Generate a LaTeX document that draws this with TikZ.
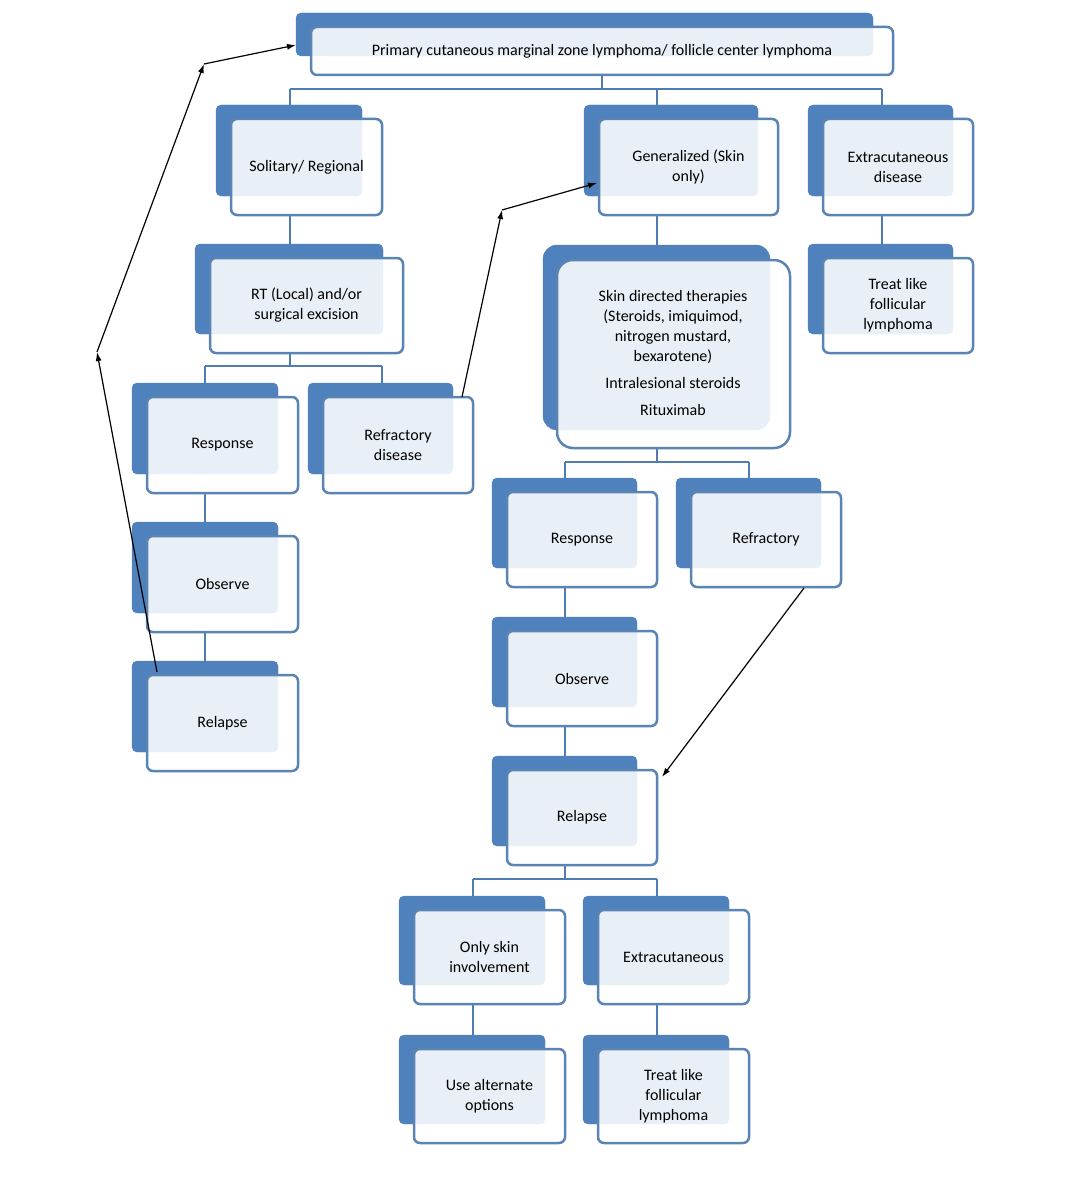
\documentclass[tikz,border=0pt]{standalone}
\usepackage{fontspec}
\setmainfont{Carlito}
\usetikzlibrary{arrows.meta}
\definecolor{dblue}{HTML}{4F81BD}
\definecolor{bord}{HTML}{5A84B4}
\definecolor{cline}{HTML}{4F7DB2}
\tikzset{
 back/.style={fill=dblue,draw=dblue,rounded corners=5pt},
 front/.style={fill=white,fill opacity=0.88,draw=bord,line width=2.5pt,rounded corners=6pt},
 lbl/.style={font=\fontsize{16}{20}\selectfont,align=center,text=black},
 conn/.style={draw=cline,line width=2.8pt},
 arr/.style={draw=black,line width=1.2pt,-{Latex[length=9pt,width=6pt]}}
}
% #1 name, front x1 y1 x2 y2, text
\newcommand{\mybox}[6]{%
 \fill[back] (#2-15,#3-14) rectangle (#4-20,#5-19);
 \draw[front] (#2,#3) rectangle (#4,#5);
 \node[lbl] (#1) at ({(#2+#4)/2},{(#3+#5)/2}) {#6};
}
\begin{document}
\begin{tikzpicture}[x=1pt,y=-1pt]
\useasboundingbox (0,0) rectangle (1080,1180);
% connectors
\draw[conn] (602,75)--(602,89) (290,89)--(882,89) (290,89)--(290,105) (657,89)--(657,105) (882,89)--(882,105);
\draw[conn] (290,215)--(290,245);
\draw[conn] (290,353)--(290,366) (205,366)--(382,366) (205,366)--(205,383) (382,366)--(382,383);
\draw[conn] (205,493)--(205,522) (205,632)--(205,661);
\draw[conn] (657,215)--(657,245) (882,215)--(882,245);
\draw[conn] (657,448)--(657,462) (565,462)--(749,462) (565,462)--(565,478) (749,462)--(749,478);
\draw[conn] (565,587)--(565,617) (565,726)--(565,756);
\draw[conn] (565,865)--(565,879) (473,879)--(657,879) (473,879)--(473,896) (657,879)--(657,896);
\draw[conn] (473,1004)--(473,1035) (657,1004)--(657,1035);
% boxes
\mybox{top}{311}{27}{893}{75}{Primary cutaneous marginal zone lymphoma/ follicle center lymphoma}
\mybox{sol}{231}{119}{382}{215}{Solitary/ Regional}
\mybox{gen}{599}{119}{778}{215}{Generalized (Skin\\only)}
\mybox{ext}{823}{119}{973}{215}{Extracutaneous\\disease}
\mybox{rt}{210}{258}{403}{353}{RT (Local) and/or\\surgical excision}
\mybox{respL}{147}{397}{298}{493}{Response}
\mybox{refd}{323}{397}{473}{493}{Refractory\\disease}
\mybox{obsL}{147}{536}{298}{632}{Observe}
\mybox{relL}{147}{675}{298}{771}{Relapse}
\fill[back,rounded corners=14pt] (543,245) rectangle (770,430);
\draw[front,rounded corners=16pt] (557,260) rectangle (790,448);
\node[lbl] (skin) at (673,353) {Skin directed therapies\\(Steroids, imiquimod,\\nitrogen mustard,\\bexarotene)\\[7pt]Intralesional steroids\\[7pt]Rituximab};
\mybox{treat1}{823}{258}{973}{353}{Treat like\\follicular\\lymphoma}
\mybox{respR}{507}{492}{657}{587}{Response}
\mybox{refR}{691}{492}{841}{587}{Refractory}
\mybox{obsR}{507}{631}{657}{726}{Observe}
\mybox{relR}{507}{770}{657}{865}{Relapse}
\mybox{only}{414}{910}{565}{1004}{Only skin\\involvement}
\mybox{ext2}{598}{910}{749}{1004}{Extracutaneous}
\mybox{alt}{414}{1049}{565}{1143}{Use alternate\\options}
\mybox{treat2}{598}{1049}{749}{1143}{Treat like\\follicular\\lymphoma}
% arrows
\coordinate (a1) at (97,352);
\coordinate (a2) at (204,64);
\coordinate (a3) at (296,45);
\coordinate (s1) at (157,672);
\draw[arr] (s1)--(a1);
\draw[arr] (a1)--(a2);
\draw[arr] (a2)--(a3);
\coordinate (b0) at (462,397);
\coordinate (b1) at (502,210);
\coordinate (b2) at (597,183);
\draw[arr] (b0)--(b1);
\draw[arr] (b1)--(b2);
\coordinate (c0) at (804,588);
\coordinate (c1) at (662,777);
\draw[arr] (c0)--(c1);
\end{tikzpicture}
\end{document}
